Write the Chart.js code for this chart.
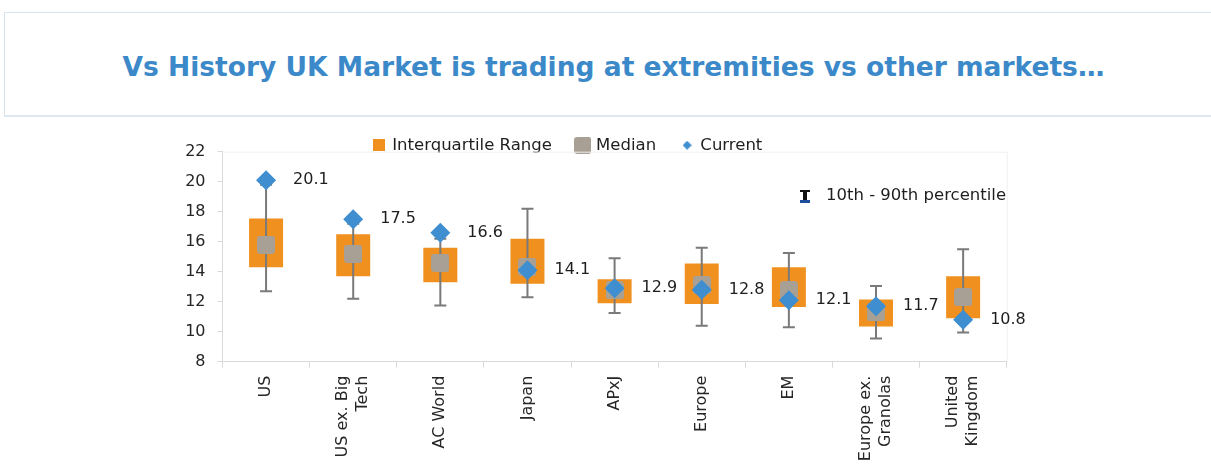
<!DOCTYPE html>
<html>
<head>
<meta charset="utf-8">
<script src="https://cdn.jsdelivr.net/npm/chart.js@4.4.0/dist/chart.umd.min.js"></script>
<style>
html, body { margin: 0; padding: 0; background: #fff; width: 1211px; height: 464px; overflow: hidden; }
#header { position: absolute; left: 4px; top: 12px; width: 1207px; height: 102px; border-top: 1px solid #d6e4f0; border-left: 1px solid #d6e4f0; border-bottom: 2px solid #dfe8f0; }
#title { position: absolute; left: 8px; top: 52px; width: 1211px; text-align: center; font: bold 26.5px "DejaVu Sans"; line-height: 30px; color: #3b89c9; white-space: nowrap; }
#chart-wrap { position: absolute; left: 0; top: 0; }
</style>
</head>
<body>
<div id="header"></div>
<div id="title">Vs History UK Market is trading at extremities vs other markets…</div>
<div id="chart-wrap"><canvas id="pe-chart" width="1211" height="540"></canvas></div>
<script>
const markets = ['US', ['US ex. Big', 'Tech'], 'AC World', 'Japan', 'APxJ', 'Europe', 'EM', ['Europe ex.', 'Granolas'], ['United', 'Kingdom']];
const q1 = [14.3, 13.7, 13.3, 13.2, 11.9, 11.85, 11.65, 10.35, 10.9];
const q3 = [17.55, 16.5, 15.6, 16.2, 13.5, 14.55, 14.3, 12.15, 13.7];
const median = [15.8, 15.2, 14.6, 14.3, 12.75, 13.1, 12.75, 11.3, 12.3];
const current = [20.1, 17.5, 16.6, 14.1, 12.9, 12.8, 12.1, 11.7, 10.8];
const p10 = [12.7, 12.2, 11.75, 12.3, 11.25, 10.4, 10.3, 9.55, 9.95];
const p90 = [19.8, 17.2, 16.2, 18.2, 14.9, 15.6, 15.25, 13.05, 15.5];
const yTicks = [8, 10, 12, 14, 16, 18, 20, 22];

const ORANGE = '#f0901e';
const GREY = '#a8a095';
const BLUE = '#3e8ed0';
const FONT = '"DejaVu Sans", Verdana, sans-serif';

// little canvases used as point styles
function makeSquare(size, color, radius) {
    const c = document.createElement('canvas');
    c.width = size; c.height = size;
    const g = c.getContext('2d');
    g.fillStyle = color;
    g.beginPath();
    g.roundRect(0, 0, size, size, radius);
    g.fill();
    return c;
}
function makeDiamond(size, color) {
    const c = document.createElement('canvas');
    c.width = size; c.height = size;
    const g = c.getContext('2d');
    g.fillStyle = color;
    g.beginPath();
    g.moveTo(size / 2, 0); g.lineTo(size, size / 2); g.lineTo(size / 2, size); g.lineTo(0, size / 2);
    g.closePath();
    g.fill();
    return c;
}
const medianImg = makeSquare(18, GREY, 3);
const legendImgs = [makeSquare(12, ORANGE, 0), makeSquare(17, GREY, 3), makeDiamond(9, BLUE)];

const whiskers = {
    id: 'whiskers',
    afterDatasetDraw(chart, args) {
        if (args.index !== 0) return;
        const ctx = chart.ctx;
        const x = chart.scales.x, y = chart.scales.y;
        ctx.save();
        ctx.strokeStyle = '#7a7a7a';
        ctx.lineWidth = 2;
        for (let i = 0; i < markets.length; i++) {
            const px = x.getPixelForValue(i);
            const top = y.getPixelForValue(p90[i]);
            const bot = y.getPixelForValue(p10[i]);
            ctx.beginPath();
            ctx.moveTo(px, top); ctx.lineTo(px, bot);
            ctx.moveTo(px - 6, top); ctx.lineTo(px + 6, top);
            ctx.moveTo(px - 6, bot); ctx.lineTo(px + 6, bot);
            ctx.stroke();
        }
        ctx.restore();
    }
};

const extras = {
    id: 'extras',
    beforeDraw(chart) {
        // center two-line category labels on their tick, like the reference
        chart.scales.x.getLabelItems().forEach(item => {
            if (Array.isArray(item.label) && !item._centered) {
                item.options.translation[0] -= (item.label.length - 1) * 10;
                item._centered = true;
            }
        });
    },
    beforeDatasetsDraw(chart) {
        const ctx = chart.ctx, a = chart.chartArea;
        ctx.save();
        ctx.strokeStyle = '#f0f0f0';
        ctx.lineWidth = 1;
        ctx.beginPath();
        ctx.moveTo(a.left, a.top + 0.5); ctx.lineTo(a.right + 0.5, a.top + 0.5); ctx.lineTo(a.right + 0.5, a.bottom);
        ctx.stroke();
        ctx.restore();
    },
    afterDatasetsDraw(chart) {
        const ctx = chart.ctx;
        const x = chart.scales.x, y = chart.scales.y;
        ctx.save();
        ctx.font = '16px ' + FONT;
        ctx.fillStyle = '#1e1e1e';
        ctx.textBaseline = 'middle';
        ctx.textAlign = 'left';
        for (let i = 0; i < current.length; i++) {
            ctx.fillText(current[i].toFixed(1), x.getPixelForValue(i) + 27, y.getPixelForValue(current[i]));
        }
        // 10th - 90th percentile key
        ctx.fillStyle = '#111';
        ctx.fillRect(800, 190, 10, 2);
        ctx.fillRect(803, 190, 4, 11);
        ctx.fillStyle = '#1f4e9c';
        ctx.fillRect(800, 200, 10, 3);
        ctx.fillStyle = '#1e1e1e';
        ctx.font = '16.5px ' + FONT;
        ctx.fillText('10th - 90th percentile', 826, 196);
        ctx.restore();
    }
};

// keep the legend out of the layout and put it where the reference has it
const legendPlace = {
    id: 'legendPlace',
    beforeLayout(chart) {
        const lg = chart.legend;
        if (lg && !lg._placed) {
            const fit = lg.fit;
            lg.fit = function () { fit.call(this); this.height = 0; };
            lg._placed = true;
        }
    },
    afterLayout(chart) {
        const lg = chart.legend;
        lg.left = 374 - 26;
        lg.right = 1150;
        lg.top = 145 - 26 - 8;
        lg.bottom = lg.top + 60;
    }
};

const ctx = document.getElementById('pe-chart').getContext('2d');
const chart = new Chart(ctx, {
    type: 'bar',
    data: {
        labels: markets,
        datasets: [
            {
                label: 'Interquartile Range',
                data: q1.map((v, i) => [v, q3[i]]),
                backgroundColor: ORANGE,
                borderWidth: 0,
                barPercentage: 1,
                categoryPercentage: 0.39,
                pointStyle: 'rect',
                order: 3
            },
            {
                type: 'line',
                label: 'Median',
                data: median,
                showLine: false,
                pointStyle: medianImg,
                backgroundColor: GREY,
                borderColor: GREY,
                pointRadius: 9,
                order: 2
            },
            {
                type: 'line',
                label: 'Current',
                data: current,
                showLine: false,
                pointStyle: 'rectRot',
                pointRadius: 10,
                pointBorderWidth: 0,
                backgroundColor: BLUE,
                borderColor: BLUE,
                order: 1
            }
        ]
    },
    options: {
        responsive: false,
        animation: false,
        layout: {
            padding: { top: 151.7, right: 204.3, bottom: 540 - 361.7 - 130, left: 0 }
        },
        scales: {
            x: {
                afterFit(scale) { scale.height = 130; },
                border: { color: '#d9d9d9', width: 1 },
                grid: { offset: true, drawOnChartArea: false, tickLength: 6, color: '#d9d9d9' },
                ticks: {
                    autoSkip: false,
                    minRotation: 90,
                    maxRotation: 90,
                    padding: 8,
                    color: '#262626',
                    font: { family: FONT, size: 16, lineHeight: 1.25 }
                }
            },
            y: {
                min: 8,
                max: 22,
                afterFit(scale) { scale.width = 222.5; },
                afterBuildTicks(scale) { scale.ticks = yTicks.map(v => ({ value: v })); },
                border: { color: '#d9d9d9', width: 1 },
                grid: { drawOnChartArea: false, tickLength: 5, color: '#d9d9d9' },
                ticks: {
                    padding: 12,
                    color: '#262626',
                    font: { family: FONT, size: 16 }
                }
            }
        },
        plugins: {
            legend: {
                position: 'top',
                align: 'start',
                labels: {
                    usePointStyle: true,
                    boxWidth: 10,
                    boxHeight: 10,
                    padding: 26,
                    color: '#1e1e1e',
                    font: { family: FONT, size: 16.5 },
                    generateLabels(chart) {
                        const items = Chart.defaults.plugins.legend.labels.generateLabels(chart);
                        items.sort((a, b) => a.datasetIndex - b.datasetIndex);
                        items.forEach(it => { it.pointStyle = legendImgs[it.datasetIndex]; });
                        return items;
                    }
                }
            },
            tooltip: { enabled: false }
        }
    },
    plugins: [whiskers, extras, legendPlace]
});
</script>
</body>
</html>
